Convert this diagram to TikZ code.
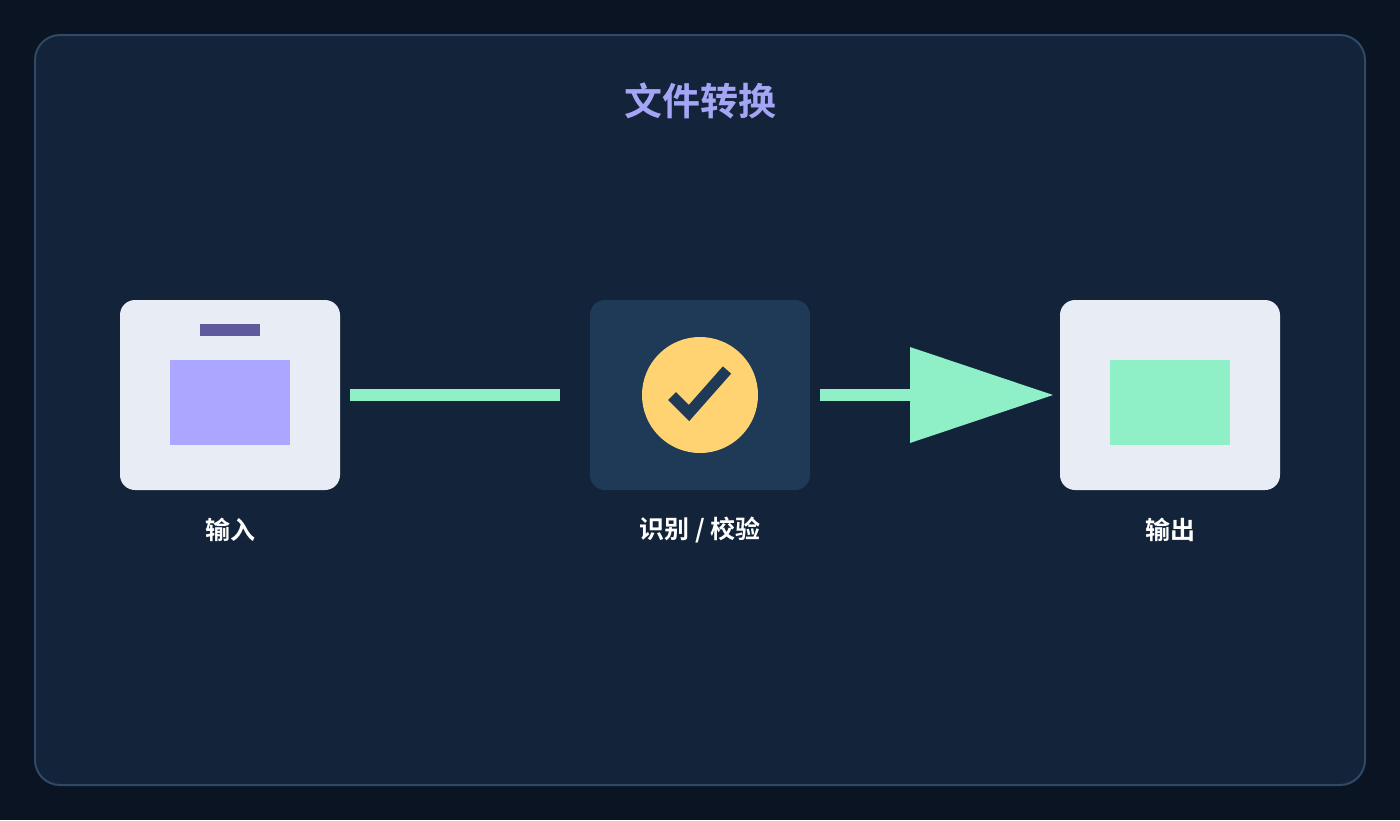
\documentclass[tikz,border=0pt]{standalone}
\usepackage{fontspec}
\newfontfamily\cjk{Noto Sans CJK SC}[BoldFont={* Bold}]
\definecolor{bgc}{HTML}{0A1422}
\definecolor{panel}{HTML}{12233A}
\definecolor{pborder}{HTML}{2E4A66}
\definecolor{titlec}{HTML}{A5A5F5}
\definecolor{boxc}{HTML}{E8ECF5}
\definecolor{purp}{HTML}{ABA6FF}
\definecolor{dpurp}{HTML}{5E5A9E}
\definecolor{grn}{HTML}{8FF0C8}
\definecolor{midc}{HTML}{1F3A57}
\definecolor{yel}{HTML}{FFD272}
\begin{document}
\begin{tikzpicture}[x=1pt,y=-1pt,
  card/.style={rounded corners=15pt},
  lbl/.style={text=white,font=\cjk\bfseries\fontsize{25}{30}\selectfont}]
\fill[bgc] (0,0) rectangle (1400,820);
\useasboundingbox (0,0) rectangle (1400,820);
\draw[pborder,fill=panel,line width=2pt,rounded corners=25pt] (35,35) rectangle (1365,785);
\node[text=titlec,font=\cjk\bfseries\fontsize{38}{44}\selectfont] (title) at (700,101) {文件转换};
\fill[boxc,card] (120,300) rectangle (340,490);
\coordinate (inR) at (350,395);
\fill[dpurp] (200,324) rectangle (260,336);
\fill[purp] (170,360) rectangle (290,445);
\fill[midc,card] (590,300) rectangle (810,490);
\node[circle,fill=yel,minimum size=116pt,inner sep=0] (chk) at (700,395) {};
\draw[midc,line width=11pt] (672,396) -- (689,413) -- (727,370);
\fill[boxc,card] (1060,300) rectangle (1280,490);
\fill[grn] (1110,360) rectangle (1230,445);
\coordinate (midL) at (560,395);
\coordinate (midR) at (820,395);
\coordinate (outL) at (1053,395);
\draw[grn,line width=12pt] (inR) -- (midL);
\draw[grn,line width=12pt] (midR) -- (912,395);
\fill[grn] (910,347) -- (outL) -- (910,443) -- cycle;
\node[lbl] (l1) at (230,530) {输入};
\node[lbl] (l2) at (700,530) {识别 / 校验};
\node[lbl] (l3) at (1170,530) {输出};
\end{tikzpicture}
\end{document}
